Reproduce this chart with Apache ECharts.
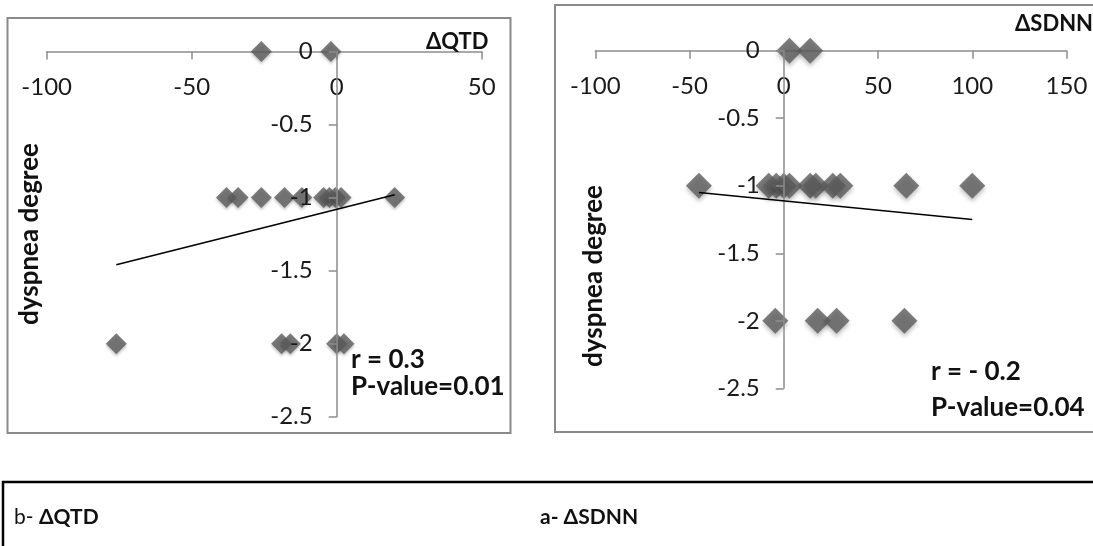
<!DOCTYPE html>
<html>
<head>
<meta charset="utf-8">
<script src="https://cdn.jsdelivr.net/npm/echarts@6/dist/echarts.min.js"></script>
<style>
  html, body { margin: 0; padding: 0; background: #fff; }
  #chart { width: 1093px; height: 546px; }
</style>
</head>
<body>
<div id="chart"></div>
<script>
// dQTD panel (left)
const qtdX = [-26, -2, -38, -34, -26, -18, -12, -4.5, -2.5, -0.5, 1.5, 20, -76, -19, -16, 0, 2.5];
const qtdY = [0, 0, -1, -1, -1, -1, -1, -1, -1, -1, -1, -1, -2, -2, -2, -2, -2];
const qtdTrendX = [-76, 20];
const qtdTrendY = [-1.46, -0.98];

// dSDNN panel (right)
const sdnnX = [3, 14, -45, -8, -4, 0, 3, 14, 17, 26, 30, 65, 100, -4.5, 18, 28, 64];
const sdnnY = [0, 0, -1, -1, -1, -1, -1, -1, -1, -1, -1, -1, -1, -2, -2, -2, -2];
const sdnnTrendX = [-45, 100];
const sdnnTrendY = [-1.05, -1.25];

const qtdRange = [-100, 50];
const sdnnRange = [-100, 150];
const yRange = [-2.5, 0];

const chart = echarts.init(document.getElementById('chart'));

const font = 'Lato';
const axisGray = '#8d8d8d';
const pointColor = '#5c5c5c';

// pixel geometry of the two plot areas
const grids = [
    { left: 46.7, top: 51.5, width: 435, height: 365.2 },
    { left: 595.3, top: 50.7, width: 471.2, height: 337.6 }
];

function pairs(xs, ys) {
    return xs.map(function (x, i) { return [x, ys[i]]; });
}

function xAxisFor(grid, range) {
    return {
        type: 'value', gridIndex: grid, position: 'top',
        min: range[0], max: range[1], interval: 50,
        axisLine: { onZero: false, lineStyle: { color: axisGray, width: 1.5 } },
        axisTick: { inside: true, length: 8, lineStyle: { color: axisGray, width: 1.5 } },
        axisLabel: { inside: true, margin: 24, color: '#1a1a1a', fontFamily: font, fontSize: 24 },
        splitLine: { show: false }
    };
}

// y axis sits on x = 0, so shift it inward from the grid's left edge
function yAxisFor(grid, range) {
    const g = grids[grid];
    const zeroPx = g.width * (0 - range[0]) / (range[1] - range[0]);
    return {
        type: 'value', gridIndex: grid, position: 'left', z: 3,
        offset: -zeroPx,
        min: yRange[0], max: yRange[1], interval: 0.5,
        axisLine: { onZero: false, lineStyle: { color: axisGray, width: 1.5 } },
        axisTick: { length: 8, lineStyle: { color: axisGray, width: 1.5 } },
        axisLabel: { margin: 24, color: '#1a1a1a', fontFamily: font, fontSize: 24 },
        splitLine: { show: false }
    };
}

function txt(x, y, text, size, weight) {
    return {
        type: 'text', x: x, y: y, z: 10,
        style: {
            text: text, x: 0, y: 0, fill: '#111', fontFamily: font,
            fontSize: size, fontWeight: weight,
            align: 'left', textAlign: 'left', verticalAlign: 'middle', textVerticalAlign: 'middle'
        }
    };
}

function vtxt(x, y, text, size) {
    return {
        type: 'text', x: x, y: y, z: 10, rotation: Math.PI / 2,
        style: {
            text: text, x: 0, y: 0, fill: '#111', fontFamily: font, fontSize: size, fontWeight: 'bold',
            align: 'center', textAlign: 'center', verticalAlign: 'middle', textVerticalAlign: 'middle'
        }
    };
}

const option = {
    backgroundColor: '#fff',
    animation: false,
    grid: grids,
    xAxis: [xAxisFor(0, qtdRange), xAxisFor(1, sdnnRange)],
    yAxis: [yAxisFor(0, qtdRange), yAxisFor(1, sdnnRange)],
    series: [
        {
            type: 'scatter', xAxisIndex: 0, yAxisIndex: 0,
            symbol: 'diamond', symbolSize: 21,
            itemStyle: { color: pointColor, shadowBlur: 3, shadowOffsetY: 2, shadowColor: 'rgba(0,0,0,0.3)' },
            data: pairs(qtdX, qtdY)
        },
        {
            type: 'line', xAxisIndex: 0, yAxisIndex: 0,
            showSymbol: false, lineStyle: { color: '#000', width: 1.5 },
            data: pairs(qtdTrendX, qtdTrendY)
        },
        {
            type: 'scatter', xAxisIndex: 1, yAxisIndex: 1,
            symbol: 'diamond', symbolSize: 26,
            itemStyle: { color: pointColor, shadowBlur: 4, shadowOffsetY: 3, shadowColor: 'rgba(0,0,0,0.3)' },
            data: pairs(sdnnX, sdnnY)
        },
        {
            type: 'line', xAxisIndex: 1, yAxisIndex: 1,
            showSymbol: false, lineStyle: { color: '#000', width: 1.5 },
            data: pairs(sdnnTrendX, sdnnTrendY)
        }
    ],
    graphic: [
        // panel frames
        { type: 'rect', z: -1, shape: { x: 7.5, y: 18, width: 503, height: 415 },
          style: { fill: 'none', stroke: '#8a8a8a', lineWidth: 2 } },
        { type: 'rect', z: -1, shape: { x: 555, y: 5, width: 560, height: 427 },
          style: { fill: 'none', stroke: '#8a8a8a', lineWidth: 2 } },
        { type: 'rect', z: -1, shape: { x: 3, y: 482, width: 1110, height: 80 },
          style: { fill: 'none', stroke: '#000', lineWidth: 2.5 } },

        // axis titles
        txt(426, 42, 'ΔQTD', 22, 'bold'),
        txt(1015, 24, 'ΔSDNN', 22, 'bold'),
        vtxt(30, 234, 'dyspnea degree', 26),
        vtxt(594, 276, 'dyspnea degree', 26),

        // stats
        txt(351, 360, 'r = 0.3', 26, 'bold'),
        txt(351, 387, 'P-value=0.01', 26, 'bold'),
        txt(931, 372, 'r = - 0.2', 26, 'bold'),
        txt(931, 408, 'P-value=0.04', 26, 'bold'),

        // caption box
        {
            type: 'text', x: 14, y: 517, z: 10,
            style: {
                text: '{n|b- }{b|ΔQTD}', x: 0, y: 0,
                align: 'left', textAlign: 'left', verticalAlign: 'middle', textVerticalAlign: 'middle',
                rich: {
                    n: { fontFamily: font, fontSize: 21, fill: '#111', color: '#111' },
                    b: { fontFamily: font, fontSize: 21, fontWeight: 'bold', fill: '#111', color: '#111' }
                }
            }
        },
        {
            type: 'text', x: 540, y: 517, z: 10,
            style: {
                text: '{b|a- ΔSDNN}', x: 0, y: 0,
                align: 'left', textAlign: 'left', verticalAlign: 'middle', textVerticalAlign: 'middle',
                rich: {
                    b: { fontFamily: font, fontSize: 21, fontWeight: 'bold', fill: '#111', color: '#111' }
                }
            }
        }
    ]
};

chart.setOption(option);
</script>
</body>
</html>
